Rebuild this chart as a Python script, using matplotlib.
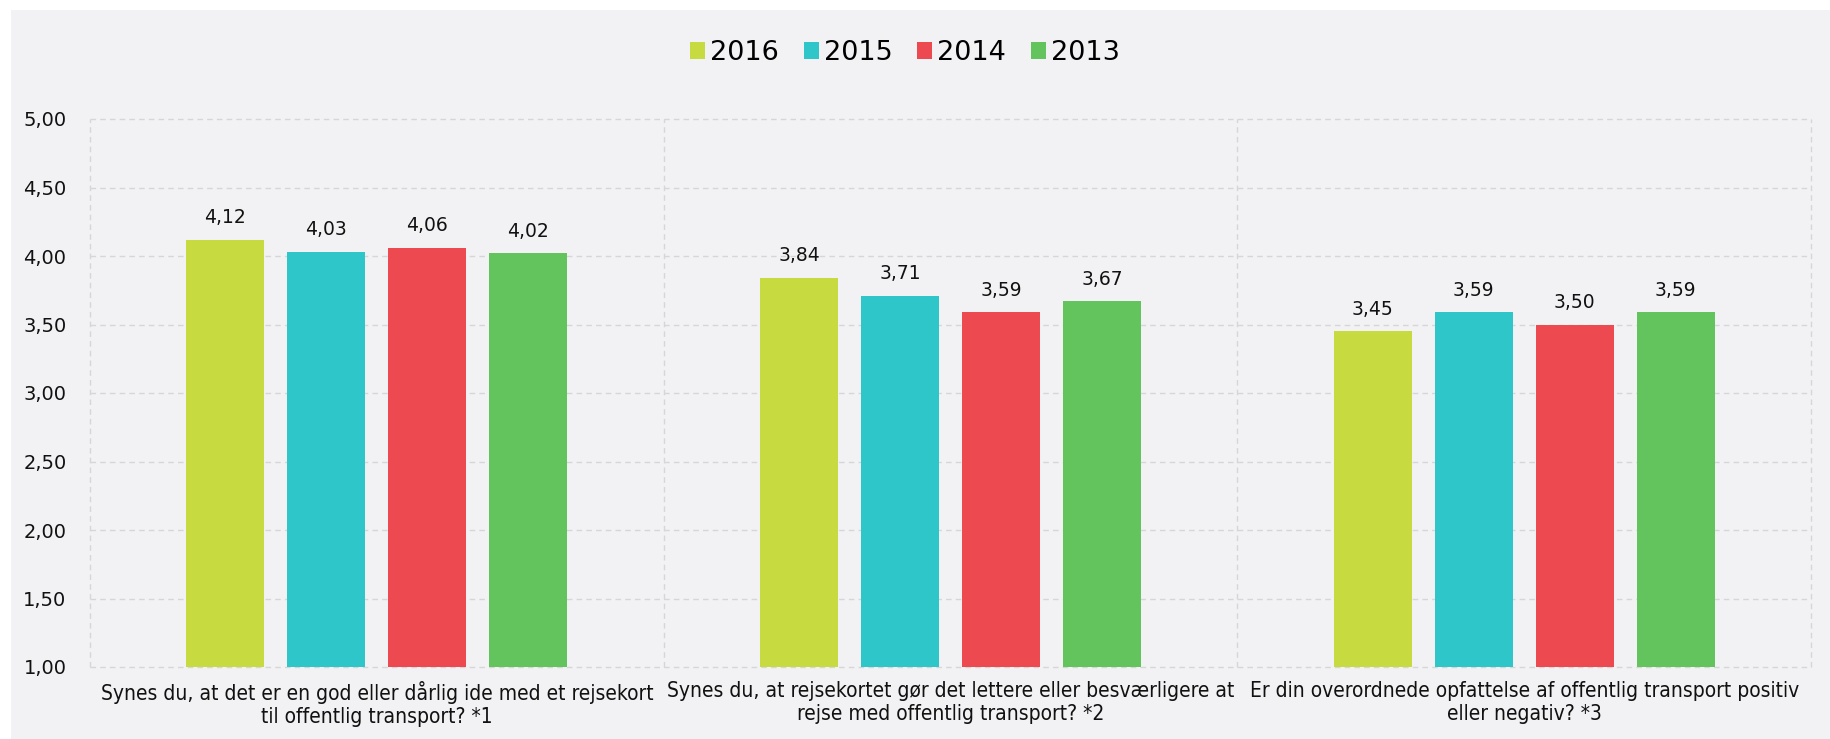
import numpy as np
import matplotlib.pyplot as plt
from matplotlib.patches import Rectangle, Patch
from matplotlib.ticker import FuncFormatter, MultipleLocator

years = ["2016", "2015", "2014", "2013"]
colors = ["#C7DB40", "#2EC6C8", "#EC4A50", "#63C35C"]
questions = [
    "Synes du, at det er en god eller dårlig ide med et rejsekort\ntil offentlig transport? *1",
    "Synes du, at rejsekortet gør det lettere eller besværligere at\nrejse med offentlig transport? *2",
    "Er din overordnede opfattelse af offentlig transport positiv\neller negativ? *3",
]
values = {
    "2016": [4.12, 3.84, 3.45],
    "2015": [4.03, 3.71, 3.59],
    "2014": [4.06, 3.59, 3.50],
    "2013": [4.02, 3.67, 3.59],
}

W, H = 1830, 739
bg = "#F2F2F4"
fig = plt.figure(figsize=(W / 100, H / 100), dpi=100)
fig.patch.set_facecolor("white")
fig.patches.append(Rectangle((11 / W, 0), 1 - 11 / W, 1 - 10 / H,
                             transform=fig.transFigure, facecolor=bg,
                             edgecolor="none", zorder=-10))

ax = fig.add_axes([90 / W, (H - 667) / H, (1811 - 90) / W, (667 - 119) / H])
ax.set_facecolor(bg)

x = np.arange(len(questions))
step, width = 0.176, 0.136
for j, yr in enumerate(years):
    pos = x + (j - 1.5) * step
    ax.bar(pos, np.array(values[yr]) - 1.0, bottom=1.0, width=width,
           color=colors[j], zorder=3)
    for xp, v in zip(pos, values[yr]):
        ax.annotate(f"{v:.2f}".replace(".", ","), (xp, v), xytext=(0, 9),
                    textcoords="offset points", ha="center", va="bottom",
                    fontsize=13.5, color="#111111")

ax.set_xlim(-0.5, 2.5)
ax.set_ylim(1.0, 5.0)
ax.yaxis.set_major_locator(MultipleLocator(0.5))
ax.yaxis.set_major_formatter(FuncFormatter(lambda v, p: f"{v:.2f}".replace(".", ",")))
ax.set_xticks(x)
ax.set_xticklabels(questions, fontsize=15, fontstretch="condensed", color="#111111",
                   linespacing=1.18)
ax.set_xticks([-0.5, 0.5, 1.5, 2.5], minor=True)
ax.tick_params(axis="both", which="both", length=0)
ax.tick_params(axis="y", labelsize=14, pad=17, labelcolor="#111111")
ax.tick_params(axis="x", pad=10)

ax.grid(axis="y", which="major", linestyle=(0, (4, 3)), color="#d6d6d6", lw=1, zorder=0)
ax.grid(axis="x", which="minor", linestyle=(0, (4, 3)), color="#d6d6d6", lw=1, zorder=0)
for s in ax.spines.values():
    s.set_visible(False)
for t in ax.xaxis.get_minor_ticks() + ax.yaxis.get_major_ticks():
    t.gridline.set_clip_on(False)

handles = [Patch(facecolor=c, edgecolor="none") for c in colors]
fig.legend(handles, years, loc="center", bbox_to_anchor=(0.4945, 1 - 53 / H),
           ncol=4, frameon=False, fontsize=19.5, handlelength=0.55, handleheight=0.55,
           handletextpad=0.2, columnspacing=0.9, borderaxespad=0)

fig.savefig("out.png", dpi=100, facecolor=fig.get_facecolor())
